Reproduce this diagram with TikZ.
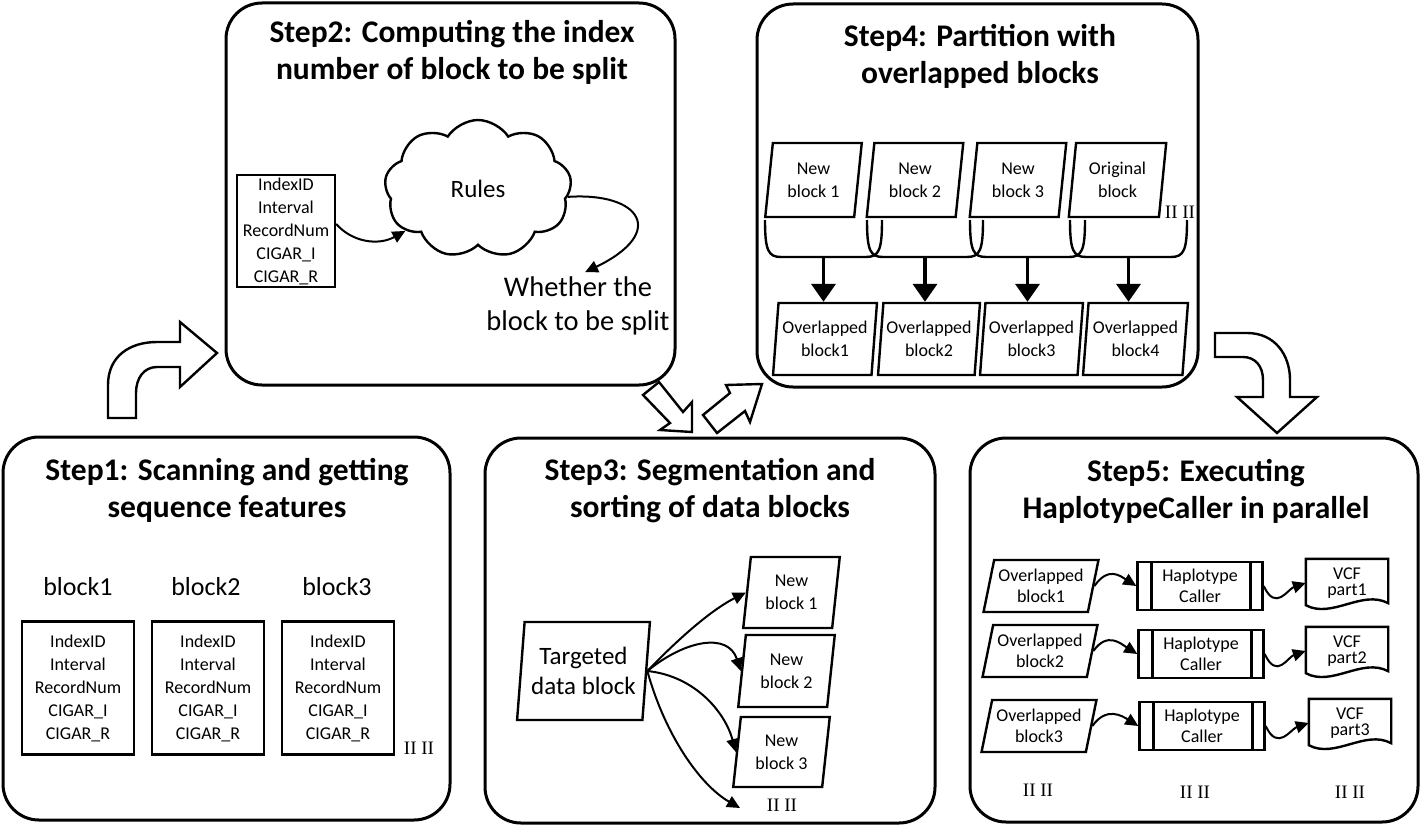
\documentclass[tikz,border=0pt]{standalone}
\usepackage{fontspec}
\setmainfont{Carlito}
\newfontfamily\markfont{Liberation Serif}
\usetikzlibrary{arrows.meta}
\usetikzlibrary{shapes.geometric}
\usetikzlibrary{shapes.symbols}
\tikzset{>={Triangle[length = 13pt, width = 12pt]}}

\begin{document}
\begin{tikzpicture}[x = 1pt, y = -1pt, line width = 2.4pt,
	font = {\fontsize{18pt}{23pt}\selectfont},
	stepbox/.style 2 args = {draw, rectangle, line width = 3pt, rounded corners = 36pt, minimum width = #1, minimum height = #2, inner sep = 0pt},
	steptitle/.style = {align = center, font = {\fontsize{31.5pt}{37pt}\selectfont\bfseries}},
	record/.style 2 args = {draw, rectangle, align = center, inner sep = 0pt, minimum width = #1, minimum height = #2},
	datablk/.style 2 args = {draw, trapezium, trapezium left angle = 82, trapezium right angle = 98, trapezium stretches = true, align = center, inner sep = 0pt, minimum width = #1, minimum height = #2},
	process/.style = {draw, rectangle, align = center, inner sep = 0pt, minimum width = 125pt, minimum height = 48pt,
		path picture = {
			\draw ([xshift = 14pt]path picture bounding box.north west) -- ([xshift = 14pt]path picture bounding box.south west);
			\draw ([xshift = -12pt]path picture bounding box.north east) -- ([xshift = -12pt]path picture bounding box.south east);
		}},
	vcf/.style = {align = center, inner sep = 0pt, minimum width = 80pt, minimum height = 46pt, font = {\fontsize{18pt}{16pt}\selectfont}},
	more/.style = {inner sep = 0pt, font = {\markfont\fontsize{19pt}{19pt}\selectfont}},
	link/.style = {->, line width = 2pt},
	bigarrow/.style = {-{Triangle[length = 18pt, width = 24pt]}, line width = 3.8pt},
	hollow/.style = {draw, fill = white, line width = 2.4pt, line join = miter}]

\useasboundingbox (0, 0) rectangle (1420, 824);

% frames of the five steps
\node[stepbox = {447pt}{383pt}] (s1) at (226.5, 628.5) {};
\node[stepbox = {449pt}{382pt}] (s2) at (450.5, 194) {};
\node[stepbox = {450pt}{385pt}] (s3) at (710, 630.5) {};
\node[stepbox = {441pt}{383pt}] (s4) at (977.5, 195.5) {};
\node[stepbox = {448pt}{384pt}] (s5) at (1194, 630) {};

\node[steptitle] (s1t) at (227, 490) {Step1: Scanning and getting \\ sequence features};
\node[steptitle] (s2t) at (452, 52) {Step2: Computing the index \\ number of block to be split};
\node[steptitle] (s3t) at (710, 491) {Step3: Segmentation and \\ sorting of data blocks};
\node[steptitle] (s4t) at (980, 56) {Step4: Partition with \\ overlapped blocks};
\node[steptitle] (s5t) at (1196, 491) {Step5: Executing \\ HaplotypeCaller in parallel};

% Step1
\node[font = {\fontsize{26pt}{30pt}\selectfont}] (lb1) at (78, 587) {block1};
\node[font = {\fontsize{26pt}{30pt}\selectfont}] (lb2) at (206, 587) {block2};
\node[font = {\fontsize{26pt}{30pt}\selectfont}] (lb3) at (337, 587) {block3};

\node[record = {112pt}{133pt}] (r1) at (78, 688) {IndexID \\ Interval \\ RecordNum \\ CIGAR\_I \\ CIGAR\_R};
\node[record = {112pt}{133pt}] (r2) at (208, 688) {IndexID \\ Interval \\ RecordNum \\ CIGAR\_I \\ CIGAR\_R};
\node[record = {112pt}{133pt}] (r3) at (338, 688) {IndexID \\ Interval \\ RecordNum \\ CIGAR\_I \\ CIGAR\_R};
\node[more] (m1) at (419, 748) {II II};

% Step2
\node[record = {98pt}{112pt}] (rec) at (286, 231) {IndexID \\ Interval \\ RecordNum \\ CIGAR\_I \\ CIGAR\_R};
\node[draw, cloud, cloud puffs = 9, cloud puff arc = 115, minimum width = 187pt, minimum height = 138pt, inner sep = 0pt, font = {\fontsize{25pt}{28pt}\selectfont}] (rules) at (478, 189) {Rules};
\node[align = center, font = {\fontsize{28.5pt}{34pt}\selectfont}] (wh) at (578, 306) {Whether the \\ block to be split};

\draw[link] ([yshift = 7pt]rec.east) .. controls (352, 242) and (378, 246) .. (rules.210);
\draw[link] (rules.355) .. controls (640, 192) and (668, 232) .. ([xshift = 7pt]wh.north);

% Step3
\node[datablk = {133pt}{98pt}, font = {\fontsize{25pt}{30pt}\selectfont}] (tgt) at (583.5, 671) {Targeted \\ data block};
\node[datablk = {97pt}{71pt}] (nb1) at (791.5, 592.5) {New \\ block 1};
\node[datablk = {97pt}{72pt}] (nb2) at (786.5, 671) {New \\ block 2};
\node[datablk = {97pt}{70pt}] (nb3) at (781.5, 752) {New \\ block 3};
\node[more] (m3) at (782, 805) {II II};
\coordinate (more3) at (740, 808);

\draw[link] (tgt.east) .. controls (685, 632) and (715, 608) .. (nb1.west);
\draw[link] (tgt.east) .. controls (685, 640) and (728, 632) .. (nb2.west);
\draw[link] (tgt.east) .. controls (695, 676) and (725, 712) .. (nb3.west);
\draw[link] (tgt.east) .. controls (665, 735) and (700, 785) .. (more3);

% Step4
\node[datablk = {97pt}{74pt}] (pn1) at (813.5, 180) {New \\ block 1};
\node[datablk = {97pt}{74pt}] (pn2) at (915, 180) {New \\ block 2};
\node[datablk = {97pt}{74pt}] (pn3) at (1018, 180) {New \\ block 3};
\node[datablk = {98pt}{74pt}] (pog) at (1117.5, 180) {Original \\ block};
\node[more] (m4) at (1180, 212) {II II};

\foreach \xl/\xr [count = \i] in {765/882, 867/983, 970/1085, 1070/1187}
{
	\draw (\xl, 220) .. controls (\xl, 250) and (\xl + 3, 257) .. (\xl + 16, 257) -- (\xr - 16, 257) .. controls (\xr - 3, 257) and (\xr, 250) .. (\xr, 220);
	\coordinate (br\i) at ({(\xl + \xr) / 2}, 257);
}

\node[datablk = {104pt}{72pt}] (po1) at (825, 339) {Overlapped \\ block1};
\node[datablk = {102pt}{72pt}] (po2) at (929, 339) {Overlapped \\ block2};
\node[datablk = {103pt}{72pt}] (po3) at (1031.5, 339) {Overlapped \\ block3};
\node[datablk = {105pt}{72pt}] (po4) at (1135.5, 339) {Overlapped \\ block4};

\foreach \i in {1, ..., 4}
	\draw[bigarrow] (br\i) -- (br\i |- po\i.north);

% Step5
\node[datablk = {115pt}{52pt}, trapezium left angle = 74, trapezium right angle = 106, font = {\fontsize{18pt}{21pt}\selectfont}] (ob1) at (1041, 586) {Overlapped \\ block1};
\node[datablk = {115pt}{52pt}, trapezium left angle = 74, trapezium right angle = 106, font = {\fontsize{18pt}{21pt}\selectfont}] (ob2) at (1040, 651) {Overlapped \\ block2};
\node[datablk = {115pt}{52pt}, trapezium left angle = 74, trapezium right angle = 106, font = {\fontsize{18pt}{21pt}\selectfont}] (ob3) at (1039, 726) {Overlapped \\ block3};

\node[process, font = {\fontsize{18pt}{21pt}\selectfont}] (hc1) at (1200, 586) {Haplotype \\ Caller};
\node[process, font = {\fontsize{18pt}{21pt}\selectfont}] (hc2) at (1201, 654) {Haplotype \\ Caller};
\node[process, font = {\fontsize{18pt}{21pt}\selectfont}] (hc3) at (1202, 726) {Haplotype \\ Caller};

\node[vcf] (vcf1) at (1347, 583) {VCF \\ part1};
\node[vcf] (vcf2) at (1347, 651) {VCF \\ part2};
\node[vcf] (vcf3) at (1350, 723) {VCF \\ part3};

\foreach \i in {1, 2, 3}
{
	\draw (vcf\i.north west) -- (vcf\i.north east) -- ([yshift = 4pt]vcf\i.south east) .. controls ([xshift = -26pt, yshift = 18pt]vcf\i.south east) and ([xshift = 26pt, yshift = -12pt]vcf\i.south west) .. ([yshift = 2pt]vcf\i.south west) -- cycle;
	\draw[link] (ob\i.east) .. controls +(14, -20) and +(-16, -10) .. (hc\i.west);
	\draw[link] (hc\i.east) .. controls +(12, 26) and +(-18, 6) .. (vcf\i.west);
}

\node[more] (m5a) at (1038, 790) {II II};
\node[more] (m5b) at (1195, 792) {II II};
\node[more] (m5c) at (1350, 792) {II II};

% hollow arrows between the steps
\draw[hollow] (108, 418) -- (108, 385) .. controls (108, 356) and (130, 342) .. (157, 342) -- (180, 342) -- (180, 322) -- (217, 353) -- (180, 387) -- (180, 367) -- (157, 367) .. controls (144, 367) and (136, 378) .. (136, 393) -- (136, 418) -- cycle;
\draw[hollow] (643, 395) -- (670, 423) -- (660, 430) -- (692, 432) -- (692, 402) -- (683, 412) -- (659, 382) -- cycle;
\draw[hollow] (703, 415) -- (730, 393) -- (726, 385) -- (762, 384) -- (750, 422) -- (745, 411) -- (717, 433) -- cycle;
\draw[hollow] (1215, 333) -- (1247, 333) .. controls (1275, 333) and (1290, 355) .. (1290, 380) -- (1290, 397) -- (1317, 397) -- (1277, 433) -- (1237, 397) -- (1263, 397) -- (1263, 380) .. controls (1263, 366) and (1255, 357) .. (1243, 357) -- (1215, 357) -- cycle;
\end{tikzpicture}
\end{document}
